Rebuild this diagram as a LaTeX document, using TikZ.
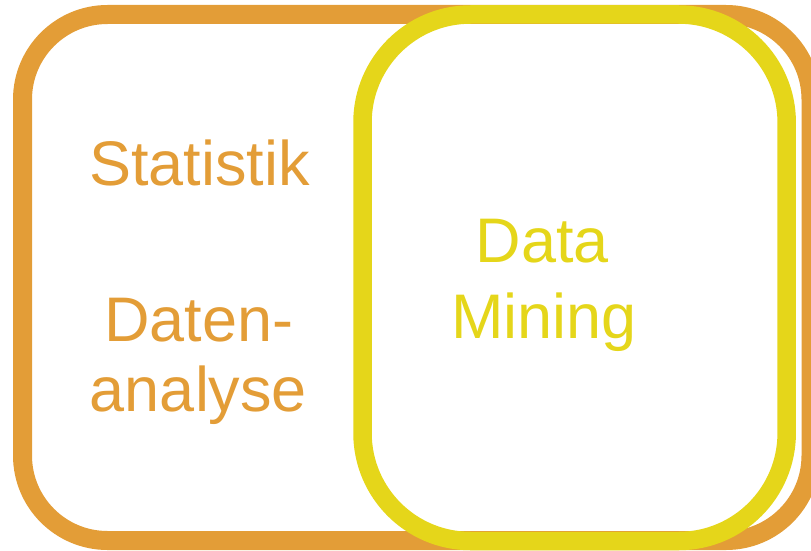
\documentclass[tikz,border=0pt]{standalone}
\usepackage{fontspec}
\setmainfont{Liberation Sans}
\definecolor{orangeA}{HTML}{E39D37}
\definecolor{yellowA}{HTML}{E5D61A}
\begin{document}
\begin{tikzpicture}[x=1pt,y=1pt,
  frameO/.style={draw=orangeA,line width=19pt,rounded corners=85pt},
  frameY/.style={draw=yellowA,line width=18.5pt,rounded corners=108pt},
  lblO/.style={text=orangeA,font=\fontsize{63}{72}\selectfont,anchor=base,inner sep=0pt},
  lblY/.style={text=yellowA,font=\fontsize{63}{72}\selectfont,anchor=base,inner sep=0pt}]
\useasboundingbox (0,0) rectangle (811,550);
\clip (0,0) rectangle (811,550);
\draw[frameO] (22.5,9.5) rectangle (811,535.5);
\draw[frameY] (362.5,9) rectangle (786.7,535.5);
\node[lblO] (stat) at (199.5,365) {Statistik};
\node[lblO] (daten) at (199,209) {Daten-};
\node[lblO] (analyse) at (198.5,139) {analyse};
\node[lblY] (data) at (542.5,288) {Data};
\node[lblY] (mining) at (544,212) {Mining};
\end{tikzpicture}
\end{document}
